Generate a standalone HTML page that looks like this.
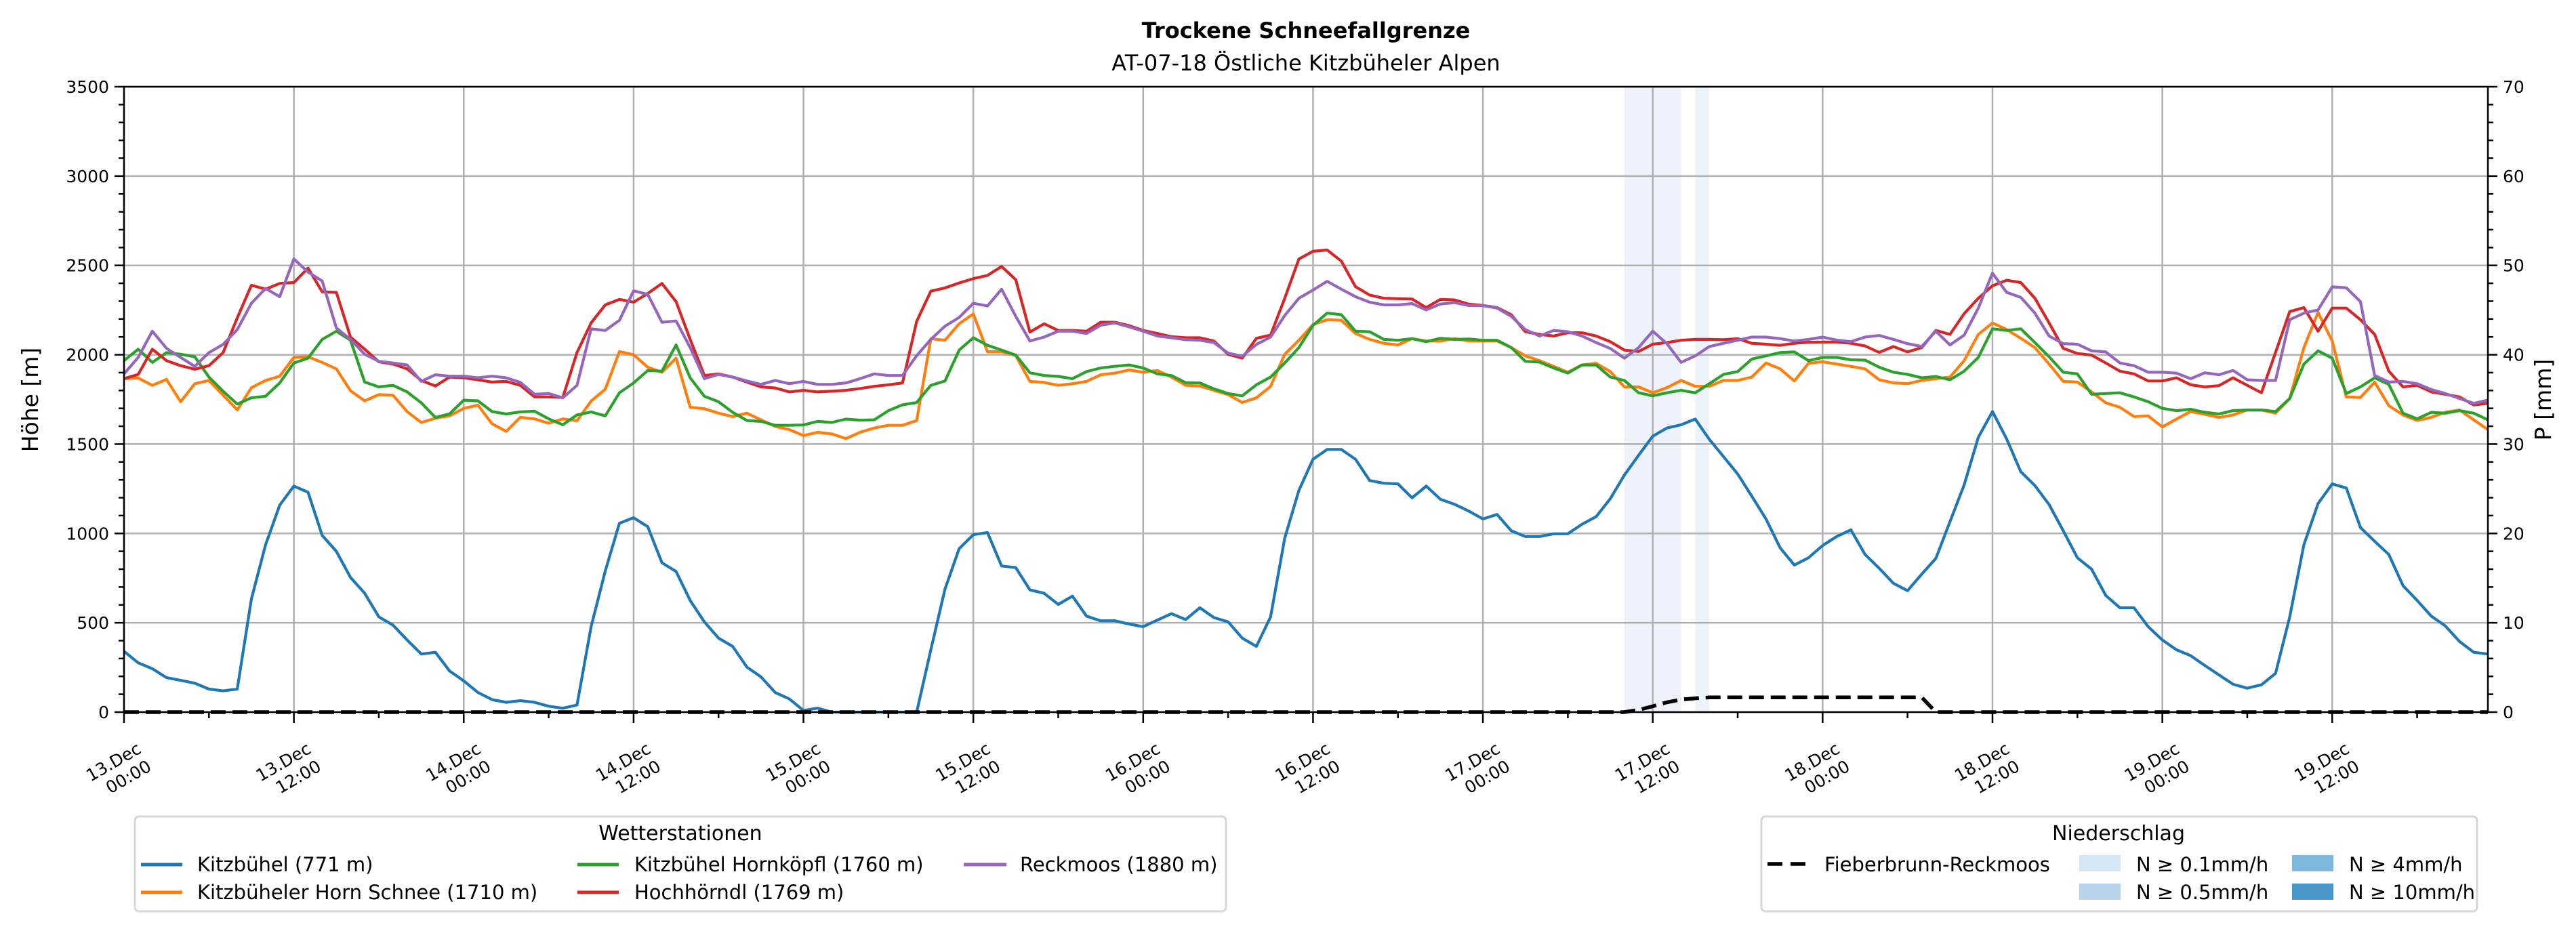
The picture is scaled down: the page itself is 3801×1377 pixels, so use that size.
<!DOCTYPE html>
<html><head><meta charset="utf-8">
<style>
html,body{margin:0;padding:0;background:#fff;}
svg{display:block;font-family:"DejaVu Sans","Liberation Sans",sans-serif;}
</style></head>
<body>
<svg id="chart" width="3801" height="1377" viewBox="0 0 3801 1377" xmlns="http://www.w3.org/2000/svg">
<rect x="0" y="0" width="3801" height="1377" fill="#fff"/>
<text x="1927" y="56" text-anchor="middle" font-size="32" font-weight="bold">Trockene Schneefallgrenze</text>
<text x="1927" y="104" text-anchor="middle" font-size="32">AT-07-18 Östliche Kitzbüheler Alpen</text>
<g id="spans"></g>
<g id="grid"></g>
<g id="lines"></g>
<g id="axes"></g>
<text transform="translate(56,590) rotate(-90)" text-anchor="middle" font-size="33">Höhe [m]</text>
<text transform="translate(3764,590) rotate(-90)" text-anchor="middle" font-size="33">P [mm]</text>

<g>
<rect x="199" y="1205" width="1610" height="140" rx="6" fill="#fff" stroke="#d6d6d6" stroke-width="3"/>
<text x="1004" y="1240" text-anchor="middle" font-size="30">Wetterstationen</text>
<g><line x1="208" y1="1276" x2="269" y2="1276" stroke="#1f77b4" stroke-width="5"/><text x="291" y="1286" font-size="29">Kitzbühel (771 m)</text></g>
<g><line x1="208" y1="1317" x2="269" y2="1317" stroke="#ff7f0e" stroke-width="5"/><text x="291" y="1327" font-size="29">Kitzbüheler Horn Schnee (1710 m)</text></g>
<g><line x1="852" y1="1276" x2="913" y2="1276" stroke="#2ca02c" stroke-width="5"/><text x="936" y="1286" font-size="29">Kitzbühel Hornköpfl (1760 m)</text></g>
<g><line x1="852" y1="1317" x2="913" y2="1317" stroke="#d62728" stroke-width="5"/><text x="936" y="1327" font-size="29">Hochhörndl (1769 m)</text></g>
<g><line x1="1422" y1="1276" x2="1485" y2="1276" stroke="#9467bd" stroke-width="5"/><text x="1505" y="1286" font-size="29">Reckmoos (1880 m)</text></g>
</g>

<g>
<rect x="2599" y="1205" width="1056" height="140" rx="6" fill="#fff" stroke="#d6d6d6" stroke-width="3"/>
<text x="3126" y="1240" text-anchor="middle" font-size="30">Niederschlag</text>
<g><line x1="2608" y1="1275" x2="2666" y2="1275" stroke="#000" stroke-width="5.5" stroke-dasharray="22 12"/><text x="2692" y="1286" font-size="29">Fieberbrunn-Reckmoos</text></g>
<g><rect x="3068" y="1262" width="61" height="24" fill="#d6e6f4"/><text x="3152" y="1286" font-size="29">N ≥ 0.1mm/h</text></g>
<g><rect x="3068" y="1304" width="61" height="24" fill="#b7d4ea"/><text x="3152" y="1327" font-size="29">N ≥ 0.5mm/h</text></g>
<g><rect x="3382" y="1262" width="61" height="24" fill="#7fb7da"/><text x="3466" y="1286" font-size="29">N ≥ 4mm/h</text></g>
<g><rect x="3382" y="1304" width="61" height="24" fill="#4a97c9"/><text x="3466" y="1327" font-size="29">N ≥ 10mm/h</text></g>
</g>
</svg>
<script>
const kitzbuehel = [340,276,243,193,178,162,129,119,129,634,937,1158,1265,1231,989,900,754,665,533,487,404,325,335,230,175,110,70,55,64,55,33,22,40,478,790,1057,1088,1038,836,787,625,505,414,
368,252,197,110,74,9,22,0,0,0,0,0,0,0,349,689,915,993,1005,818,809,684,665,603,649,537,511,511,493,478,515,551,518,584,529,505,414,368,533,974,1241,
1415,1470,1470,1415,1296,1281,1277,1199,1265,1191,1163,1125,1081,1106,1015,983,983,998,998,1051,1094,1195,1327,1437,1544,1590,1608,1640,1526,1430,1333,1208,1081,919,823,864,932,983,1020,882,805,721,
680,772,860,1066,1272,1538,1682,1529,1345,1268,1162,1015,864,800,653,584,584,478,404,349,316,261,208,156,134,153,217,533,937,1167,1277,1254,1033,956,882,708,625,537,482,395,335,325];
const hornSchnee = [1866,1870,1829,1862,1737,1838,1856,1774,1691,1816,1856,1880,1985,1989,1957,1921,1798,1742,1777,1774,1682,1621,1645,1658,1700,1718,1614,1571,1650,1641,1617,1641,1630,1741,1807,2018,2000,1930,1902,1981,1706,1698,1673,
1654,1673,1636,1599,1581,1548,1566,1557,1531,1566,1590,1605,1605,1632,2090,2081,2174,2228,2017,2017,1995,1851,1845,1829,1838,1851,1888,1897,1915,1902,1912,1875,1829,1825,1801,1777,1733,1759,1823,2003,2081,
2169,2196,2193,2119,2086,2064,2055,2090,2077,2077,2090,2077,2077,2077,2040,1994,1967,1935,1902,1943,1952,1906,1820,1820,1787,1816,1856,1823,1823,1856,1856,1875,1954,1921,1853,1952,1961,1948,1935,1921,1860,1843,
1838,1856,1866,1875,1967,2114,2178,2141,2092,2040,1948,1851,1847,1792,1731,1706,1654,1658,1596,1640,1682,1667,1649,1663,1691,1691,1673,1755,2040,2237,2077,1764,1761,1847,1715,1663,1632,1650,1678,1691,1636,1581];
const hornkoepfl = [1967,2031,1957,2012,2003,1989,1875,1796,1724,1759,1768,1842,1954,1981,2086,2132,2081,1847,1820,1829,1792,1731,1649,1669,1746,1742,1682,1669,1680,1684,1641,1608,1663,1680,1658,1787,1842,1912,1908,2055,1871,1768,1737,
1678,1632,1627,1605,1605,1607,1627,1621,1640,1634,1636,1687,1720,1733,1829,1853,2026,2095,2053,2026,1998,1899,1884,1879,1866,1906,1926,1935,1943,1926,1893,1884,1844,1842,1809,1783,1770,1832,1875,1954,2040,
2165,2233,2224,2132,2129,2086,2081,2090,2073,2092,2086,2088,2081,2081,2040,1963,1959,1926,1897,1943,1943,1875,1856,1787,1770,1787,1801,1787,1838,1890,1906,1976,1994,2012,2016,1967,1985,1985,1972,1970,1930,1902,
1890,1871,1878,1860,1908,1985,2145,2136,2145,2068,1989,1902,1893,1779,1783,1787,1764,1737,1700,1687,1695,1678,1669,1687,1691,1691,1682,1755,1948,2022,1981,1783,1820,1871,1834,1673,1641,1678,1673,1687,1673,1636];
const hochhoerndl = [1866,1890,2031,1967,1939,1919,1939,2012,2206,2389,2367,2399,2404,2485,2352,2349,2099,2031,1961,1948,1921,1856,1825,1875,1871,1860,1847,1851,1829,1764,1764,1761,2012,2178,2279,2310,2294,2343,2399,2297,2086,1884,1893,
1875,1847,1820,1814,1792,1801,1792,1796,1801,1811,1823,1832,1842,2187,2356,2374,2402,2426,2444,2494,2420,2127,2173,2136,2136,2132,2182,2182,2163,2136,2119,2101,2095,2095,2077,2003,1981,2092,2110,2316,2536,
2579,2586,2524,2381,2334,2316,2314,2312,2264,2310,2307,2283,2276,2264,2224,2129,2114,2105,2123,2123,2105,2073,2026,2018,2059,2068,2081,2086,2086,2084,2090,2064,2059,2053,2064,2070,2071,2071,2064,2049,2013,2046,
2016,2040,2136,2114,2230,2316,2386,2417,2404,2316,2178,2036,2007,1998,1954,1908,1893,1853,1853,1871,1832,1820,1827,1871,1829,1787,2013,2242,2264,2132,2261,2261,2196,2114,1908,1820,1829,1792,1779,1764,1719,1728];
const reckmoos = [1893,1985,2132,2036,1985,1935,2012,2058,2141,2288,2371,2325,2536,2463,2413,2150,2086,2003,1963,1954,1943,1851,1888,1880,1880,1871,1880,1871,1845,1779,1783,1759,1829,2145,2136,2193,2358,2338,2182,2189,2040,1866,1890,
1875,1853,1834,1856,1838,1851,1834,1834,1842,1866,1893,1884,1884,1995,2086,2160,2209,2288,2273,2367,2215,2077,2099,2132,2132,2119,2165,2178,2156,2132,2105,2095,2084,2081,2068,2009,1992,2058,2099,2220,2316,
2362,2411,2367,2325,2294,2279,2279,2286,2251,2284,2292,2275,2275,2261,2215,2141,2105,2136,2129,2105,2068,2035,1981,2040,2132,2062,1957,1994,2046,2064,2081,2099,2099,2090,2077,2086,2099,2082,2073,2099,2108,2086,
2062,2046,2132,2055,2110,2261,2457,2349,2321,2233,2105,2062,2059,2022,2016,1954,1939,1902,1902,1897,1866,1899,1888,1912,1860,1856,1856,2196,2233,2251,2380,2375,2297,1884,1847,1851,1838,1805,1783,1755,1728,1746];
const precipHours = [0,106,107,108,109,110,111,112,127,128,167];
const precipValues = [0,0,0.25,0.65,1.1,1.4,1.55,1.65,1.65,0,0];
const spanStart = [106,111];
const spanEnd = [110,112];
const yTicks = [0,500,1000,1500,2000,2500,3000,3500];
const y2Ticks = [0,10,20,30,40,50,60,70];
const xTickDays = ["13.Dec","13.Dec","14.Dec","14.Dec","15.Dec","15.Dec","16.Dec","16.Dec","17.Dec","17.Dec","18.Dec","18.Dec","19.Dec","19.Dec"];
const xTickTimes = ["00:00","12:00","00:00","12:00","00:00","12:00","00:00","12:00","00:00","12:00","00:00","12:00","00:00","12:00"];

const NS="http://www.w3.org/2000/svg";
const L=183,R=3671,T=128,B=1051,HMAX=167;
const x=h=>L+h*(R-L)/HMAX;
const yL=v=>B-v*(B-T)/3500;
const yR=p=>B-p*(B-T)/70;
function mk(tag,attrs,parent){const e=document.createElementNS(NS,tag);for(const k in attrs)e.setAttribute(k,attrs[k]);parent.appendChild(e);return e;}
const gS=document.getElementById('spans'),gG=document.getElementById('grid'),gL=document.getElementById('lines'),gA=document.getElementById('axes');

spanStart.forEach((s,i)=>{
  const r=mk('rect',{x:x(s),y:T,width:x(spanEnd[i])-x(s),height:B-T,fill:'#eef3fb'},gS);
  
  
});
xTickDays.forEach((d,i)=>{
  const gx=x(i*12);
  const l=mk('line',{x1:gx,y1:T,x2:gx,y2:B,stroke:'#b0b0b0','stroke-width':2.5},gG);
  
  
});
yTicks.forEach(v=>{
  const l=mk('line',{x1:L,y1:yL(v),x2:R,y2:yL(v),stroke:'#b0b0b0','stroke-width':2.5},gG);
  
  
});

const series=[[kitzbuehel,'#1f77b4','line-kitzbuehel'],[hornSchnee,'#ff7f0e','line-kitzbueheler-horn'],[hornkoepfl,'#2ca02c','line-hornkoepfl'],[hochhoerndl,'#d62728','line-hochhoerndl'],[reckmoos,'#9467bd','line-reckmoos']];
series.forEach(([arr,c,n])=>{
  const pts=arr.map((v,i)=>x(i).toFixed(1)+','+yL(v).toFixed(1)).join(' ');
  const p=mk('polyline',{points:pts,fill:'none',stroke:c,'stroke-width':4.2,'stroke-linejoin':'round'},gL);
  
  
});
const ppts=precipHours.map((h,i)=>x(h).toFixed(1)+','+yR(precipValues[i]).toFixed(1)).join(' ');
const pl=mk('polyline',{points:ppts,fill:'none',stroke:'#000','stroke-width':5.5,'stroke-dasharray':'22 10'},gL);



const fr=mk('rect',{x:L,y:T,width:R-L,height:B-T,fill:'none',stroke:'#000','stroke-width':2.5},gA);


for(let v=0;v<=3500;v+=100){
  const major=v%500===0;const len=major?14:8;
  const t=mk('line',{x1:L-len,y1:yL(v),x2:L,y2:yL(v),stroke:'#000','stroke-width':2.5},gA);
  
  
}
for(let p=0;p<=70;p+=2){
  const major=p%10===0;const len=major?14:8;
  const t=mk('line',{x1:R,y1:yR(p),x2:R+len,y2:yR(p),stroke:'#000','stroke-width':2.5},gA);
  
  
}
yTicks.forEach(v=>{
  const t=mk('text',{x:L-22,y:yL(v)+9,'text-anchor':'end','font-size':25},gA);
  t.textContent=v;
  
  
});
y2Ticks.forEach(p=>{
  const t=mk('text',{x:R+22,y:yR(p)+9,'font-size':25},gA);
  t.textContent=p;
  
  
});
for(let h=0;h<=HMAX;h+=6){
  const major=h%12===0;const len=major?16:9;
  const t=mk('line',{x1:x(h),y1:B,x2:x(h),y2:B+len,stroke:'#000','stroke-width':2.5},gA);
  
  
}
xTickDays.forEach((d,i)=>{
  const X=x(i*12);
  const t1=mk('text',{'text-anchor':'end','font-size':25,transform:`translate(${X+27},1110) rotate(-30)`},gA);
  t1.textContent=d;
  
  
  const t2=mk('text',{'text-anchor':'end','font-size':25,transform:`translate(${X+42},1136) rotate(-30)`},gA);
  t2.textContent=xTickTimes[i];
  
  
});
</script>
</body></html>
